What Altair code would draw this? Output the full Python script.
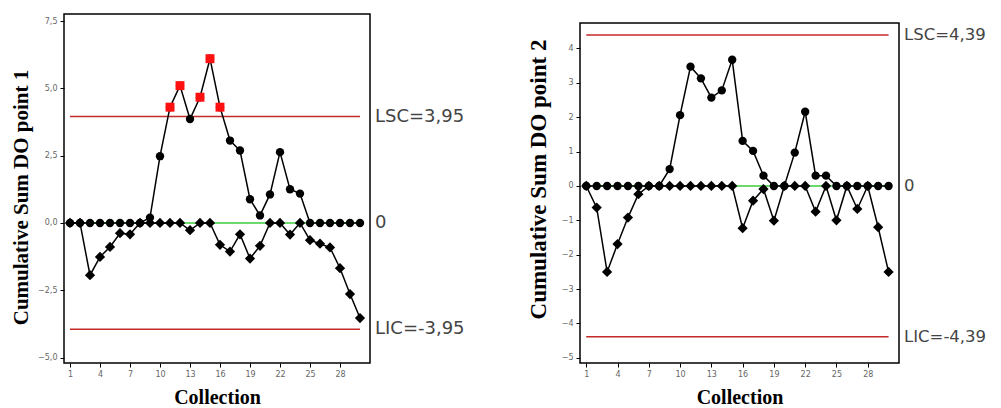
import altair as alt
import pandas as pd

# ---------------- data ----------------
collection = list(range(1, 31))
x_ticks = [1, 4, 7, 10, 13, 16, 19, 22, 25, 28]

p1_upper = [0, 0, 0, 0, 0, 0, 0, 0, 0.2, 2.48, 4.3, 5.1, 3.86, 4.67, 6.1,
            4.3, 3.06, 2.69, 0.88, 0.28, 1.06, 2.63, 1.25, 1.09, 0, 0, 0, 0, 0, 0]
p1_lower = [0, 0, -1.94, -1.26, -0.89, -0.38, -0.42, 0, 0, 0, 0, 0, -0.27, 0, 0,
            -0.81, -1.06, -0.42, -1.32, -0.85, 0, 0, -0.43, 0, -0.64, -0.77, -0.91,
            -1.68, -2.64, -3.53]
p1_limit = 3.95
p1_yticks = [-5, -2.5, 0, 2.5, 5, 7.5]

p2_upper = [0, 0, 0, 0, 0, 0, 0, 0, 0.49, 2.06, 3.47, 3.13, 2.57, 2.78, 3.67,
            1.31, 1.02, 0.3, 0, 0, 0.97, 2.16, 0.3, 0.3, 0, 0, 0, 0, 0, 0]
p2_lower = [0, -0.63, -2.5, -1.69, -0.92, -0.24, 0, 0, 0, 0, 0, 0, 0, 0, 0,
            -1.23, -0.43, -0.09, -1.01, 0, 0, 0, -0.75, 0, -1.0, 0, -0.67, 0,
            -1.2, -2.5]
p2_limit = 4.39
p2_yticks = [-5, -4, -3, -2, -1, 0, 1, 2, 3, 4]

RED = "#c42a2a"
GREEN = "#3ccc3c"
TXT = "#444444"


def panel(upper, lower, lim, ydom, yticks, label_expr, ytitle, w, h,
          title_size, title_y, title_pad, label_size, lim_txt):
    df = pd.DataFrame({
        "x": collection * 2,
        "v": upper + lower,
        "s": ["upper"] * 30 + ["lower"] * 30,
    })
    lims = pd.DataFrame({
        "v": [lim, 0, -lim],
        "label": ["LSC=" + lim_txt, "0", "LIC=-" + lim_txt],
        "col": [RED, GREEN, RED],
    })
    xs = alt.Scale(domain=[0.4, 31], nice=False, zero=False)
    ys = alt.Scale(domain=ydom, nice=False, zero=False)
    xaxis = alt.Axis(values=x_ticks, title="Collection", grid=False, domain=False,
                     tickColor="black", tickSize=4, labelFontSize=8, labelColor="#666",
                     labelPadding=3, titleFont="Liberation Serif", titleFontWeight="bold",
                     titleFontSize=20, titleColor="black", titlePadding=9, labelFont="DejaVu Sans")
    yaxis = alt.Axis(values=yticks, title=ytitle, grid=False, domain=False,
                     tickColor="black", tickSize=4, labelFontSize=8, labelColor="#666",
                     labelPadding=3, labelExpr=label_expr, titleFont="Liberation Serif",
                     titleFontWeight="bold", titleFontSize=title_size, titleColor="black",
                     titlePadding=title_pad, titleY=title_y, labelFont="DejaVu Sans")
    X = alt.X("x:Q", scale=xs, axis=xaxis)
    Y = alt.Y("v:Q", scale=ys, axis=yaxis)

    base_l = alt.Chart(lims)
    rules = base_l.mark_rule(strokeWidth=1.5).encode(
        x=alt.X(datum=1, scale=xs, axis=xaxis), x2=alt.X2(datum=30), y=Y,
        color=alt.Color("col:N", scale=None))
    texts = base_l.mark_text(align="left", baseline="middle", dx=5, fontSize=label_size,
                             font="DejaVu Sans", color=TXT).encode(
        x=alt.X(datum=31, scale=xs, axis=xaxis), y=Y, text="label:N")

    base = alt.Chart(df)
    lines = base.mark_line(color="black", strokeWidth=1.5).encode(x=X, y=Y, detail="s:N")
    up_pts = base.transform_filter(alt.datum.s == "upper").mark_point(
        shape="circle", filled=True, color="black", size=70, opacity=1).encode(x=X, y=Y)
    lo_pts = base.transform_filter(alt.datum.s == "lower").mark_point(
        shape="diamond", filled=True, color="black", size=105, opacity=1).encode(x=X, y=Y)
    out_pts = base.transform_filter((alt.datum.s == "upper") & (alt.datum.v > lim)).mark_point(
        shape="square", filled=True, color="#ff1010", size=80, opacity=1).encode(x=X, y=Y)

    return alt.layer(rules, lines, up_pts, lo_pts, out_pts, texts).properties(width=w, height=h)


left = panel(p1_upper, p1_lower, p1_limit, [-5.2, 7.76], p1_yticks,
             "replace(format(datum.value, '.1f'), '.', ',')",
             "Cumulative Sum DO point 1", 306, 349, 21, 183, 6, 18, "3,95")
right = panel(p2_upper, p2_lower, p2_limit, [-5.15, 4.74], p2_yticks,
              "format(datum.value, 'd')",
              "Cumulative Sum DO point 2", 319, 340, 23, 156, 11, 16.5, "4,39")

# invisible spacer that pushes the right panel down a little
spacer = alt.Chart(pd.DataFrame({"a": [0]})).mark_point(size=0, opacity=0).encode(
    x=alt.value(0), y=alt.value(0)
).properties(width=319, height=7, view=alt.ViewBackground(stroke="transparent"))

right_col = alt.vconcat(spacer, right, spacing=0)

chart = alt.hconcat(left, right_col, spacing=60).properties(
    padding={"left": 1, "top": 5, "right": 0, "bottom": 0},
    background="white",
).configure_view(stroke="black", strokeWidth=1.5)

chart.save("out.html", embed_options={"renderer": "svg", "actions": False})
